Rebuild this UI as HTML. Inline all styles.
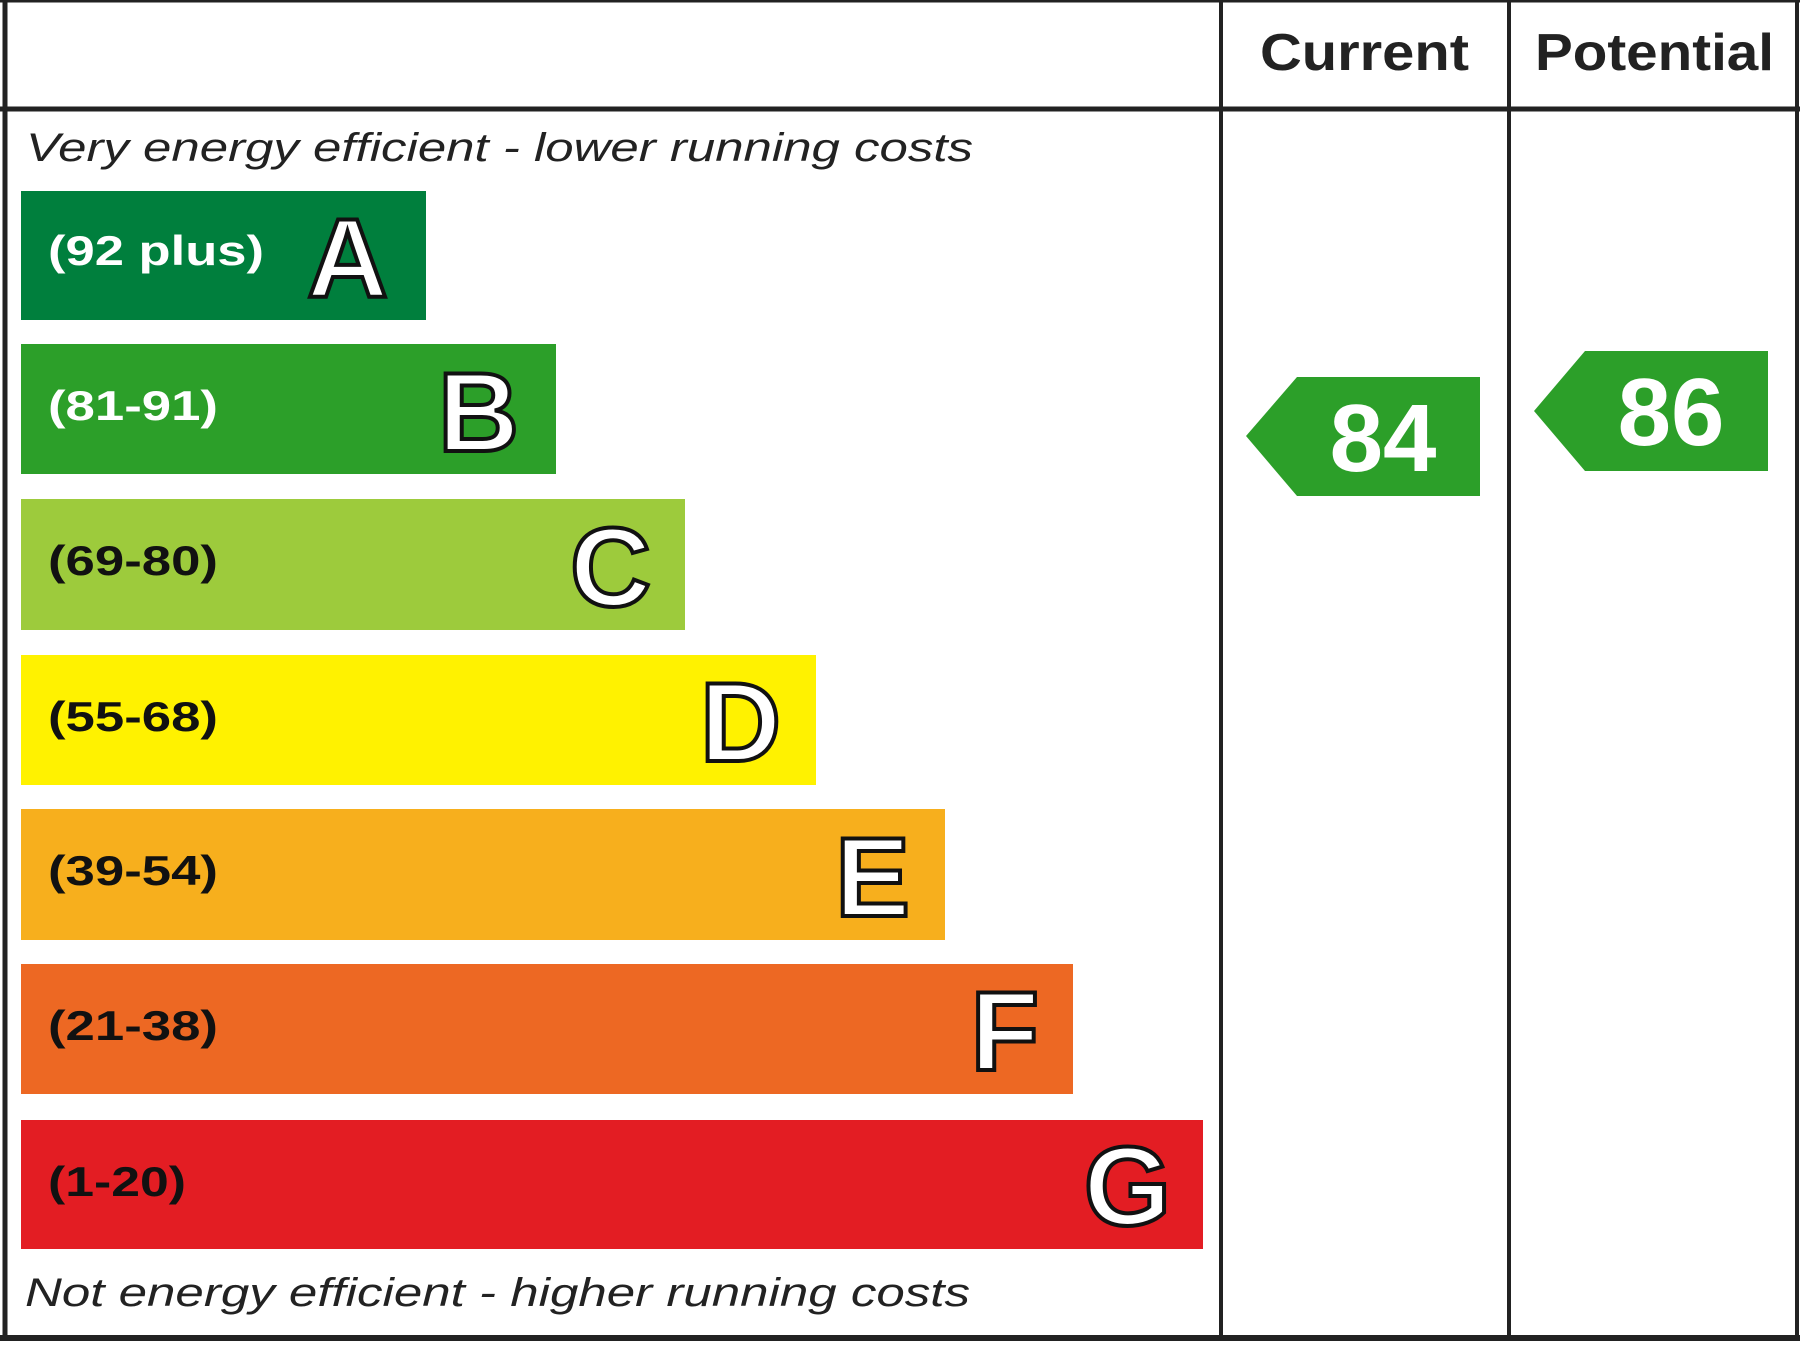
<!DOCTYPE html>
<html><head><style>
body{margin:0;background:#fff;}
svg{display:block;}
</style></head><body>
<svg width="1800" height="1350" viewBox="0 0 1800 1350" xmlns="http://www.w3.org/2000/svg" font-family="Liberation Sans, Arial, sans-serif">
<rect x="0" y="0" width="1800" height="1350" fill="#fff"/>
<g stroke="#222" fill="none">
<line x1="5" y1="0" x2="5" y2="1340" stroke-width="5"/>
<line x1="0" y1="109" x2="1800" y2="109" stroke-width="5"/>
<line x1="0" y1="1338" x2="1800" y2="1338" stroke-width="6"/>
<line x1="1221" y1="0" x2="1221" y2="1338" stroke-width="4"/>
<line x1="1509" y1="0" x2="1509" y2="1338" stroke-width="4"/>
<line x1="1797" y1="0" x2="1797" y2="1338" stroke-width="4"/>
<line x1="0" y1="1" x2="1800" y2="1" stroke-width="3"/>
</g>
<text x="1260" y="70" font-size="52" font-weight="bold" fill="#222" textLength="209" lengthAdjust="spacingAndGlyphs">Current</text>
<text x="1535" y="70" font-size="52" font-weight="bold" fill="#222" textLength="239" lengthAdjust="spacingAndGlyphs">Potential</text>
<text x="26" y="161" font-size="40" font-style="italic" fill="#222" textLength="947" lengthAdjust="spacingAndGlyphs">Very energy efficient - lower running costs</text>
<text x="25" y="1306" font-size="40" font-style="italic" fill="#222" textLength="945" lengthAdjust="spacingAndGlyphs">Not energy efficient - higher running costs</text>
<g font-weight="bold">
<rect x="21" y="191" width="405" height="129" fill="#007f3d"/>
<text x="48" y="265" font-size="42" fill="#fff" textLength="216" lengthAdjust="spacingAndGlyphs">(92 plus)</text>
<text x="388" y="297" font-size="112" fill="#fff" stroke="#111" stroke-width="4" text-anchor="end">A</text>
<rect x="21" y="344" width="535" height="130" fill="#2c9f29"/>
<text x="48" y="420" font-size="42" fill="#fff" textLength="170" lengthAdjust="spacingAndGlyphs">(81-91)</text>
<text x="519" y="451" font-size="112" fill="#fff" stroke="#111" stroke-width="4" text-anchor="end">B</text>
<rect x="21" y="499" width="664" height="131" fill="#9dcb3c"/>
<text x="48" y="575" font-size="42" fill="#111" textLength="170" lengthAdjust="spacingAndGlyphs">(69-80)</text>
<text x="651" y="606" font-size="112" fill="#fff" stroke="#111" stroke-width="4" text-anchor="end">C</text>
<rect x="21" y="655" width="795" height="130" fill="#fff200"/>
<text x="48" y="731" font-size="42" fill="#111" textLength="170" lengthAdjust="spacingAndGlyphs">(55-68)</text>
<text x="781" y="761" font-size="112" fill="#fff" stroke="#111" stroke-width="4" text-anchor="end">D</text>
<rect x="21" y="809" width="924" height="131" fill="#f7af1d"/>
<text x="48" y="885" font-size="42" fill="#111" textLength="170" lengthAdjust="spacingAndGlyphs">(39-54)</text>
<text x="910" y="916" font-size="112" fill="#fff" stroke="#111" stroke-width="4" text-anchor="end">E</text>
<rect x="21" y="964" width="1052" height="130" fill="#ed6823"/>
<text x="48" y="1040" font-size="42" fill="#111" textLength="170" lengthAdjust="spacingAndGlyphs">(21-38)</text>
<text x="1039" y="1070" font-size="112" fill="#fff" stroke="#111" stroke-width="4" text-anchor="end">F</text>
<rect x="21" y="1120" width="1182" height="129" fill="#e31d23"/>
<text x="48" y="1196" font-size="42" fill="#111" textLength="138" lengthAdjust="spacingAndGlyphs">(1-20)</text>
<text x="1171" y="1225" font-size="112" fill="#fff" stroke="#111" stroke-width="4" text-anchor="end">G</text>
<polygon points="1246,436 1297,377 1480,377 1480,496 1297,496" fill="#2c9f29"/>
<text x="1383" y="471" font-size="96" fill="#fff" text-anchor="middle">84</text>
<polygon points="1534,411 1585,351 1768,351 1768,471 1585,471" fill="#2c9f29"/>
<text x="1671" y="445" font-size="96" fill="#fff" text-anchor="middle">86</text>
</g>
</svg>
</body></html>
